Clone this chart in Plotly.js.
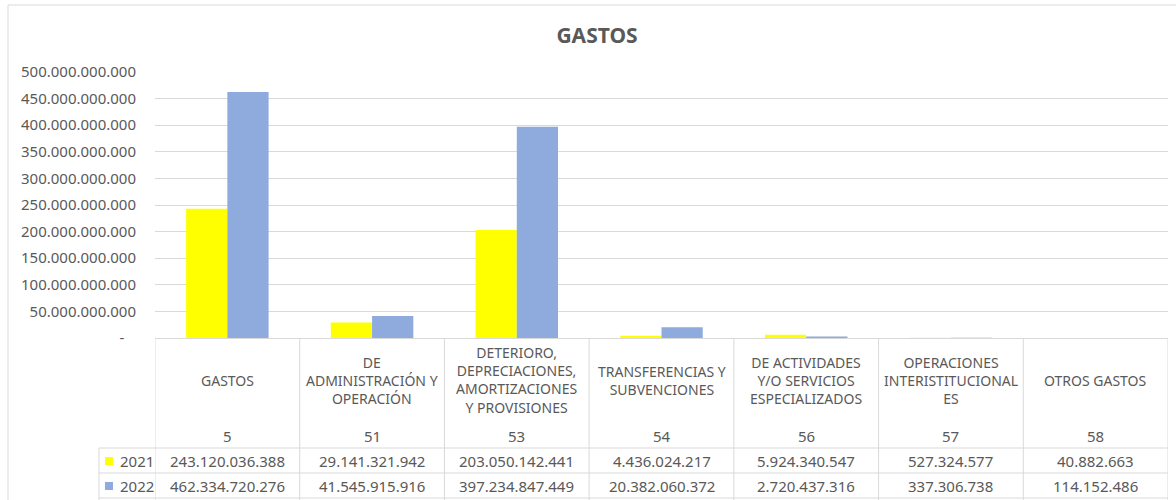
<!DOCTYPE html>
<html>
<head>
<meta charset="utf-8">
<script src="https://cdn.plot.ly/plotly-3.0.1.min.js"></script>
<style>
  html, body { margin: 0; padding: 0; background: #ffffff; }
  #chart { width: 1176px; height: 500px; }
</style>
</head>
<body>
<div id="chart"></div>
<script>
// ---- Data ----
const categoryLabels = [
  "GASTOS",
  "DE<br>ADMINISTRACIÓN Y<br>OPERACIÓN",
  "DETERIORO,<br>DEPRECIACIONES,<br>AMORTIZACIONES<br>Y PROVISIONES",
  "TRANSFERENCIAS Y<br>SUBVENCIONES",
  "DE ACTIVIDADES<br>Y/O SERVICIOS<br>ESPECIALIZADOS",
  "OPERACIONES<br>INTERISTITUCIONAL<br>ES",
  "OTROS GASTOS"
];
const categoryCodes = ["5", "51", "53", "54", "56", "57", "58"];
const seriesNames = ["2021", "2022"];
const values2021 = [243120036388, 29141321942, 203050142441, 4436024217, 5924340547, 527324577, 40882663];
const values2022 = [462334720276, 41545915916, 397234847449, 20382060372, 2720437316, 337306738, 114152486];
const yTickVals = [0, 50e9, 100e9, 150e9, 200e9, 250e9, 300e9, 350e9, 400e9, 450e9, 500e9];
const yTickText = ["-\u00a0\u00a0\u00a0", "50.000.000.000", "100.000.000.000", "150.000.000.000", "200.000.000.000",
  "250.000.000.000", "300.000.000.000", "350.000.000.000", "400.000.000.000", "450.000.000.000", "500.000.000.000"];

// ---- Styling ----
const FONT = "Noto Sans, Open Sans, Liberation Sans, sans-serif";
const TEXT = "#595959";
const LINE = "#d9d9d9";
const colors = ["#FFFF00", "#8FAADC"];

const W = 1176, H = 500;
const M = { l: 155, r: 8, t: 72, b: 162 };
const PW = W - M.l - M.r, PH = H - M.t - M.b;
const px2x = px => (px - M.l) / PW;          // pixel x -> paper x
const py2y = py => (H - M.b - py) / PH;       // pixel y -> paper y

function fmt(v) {
  return String(v).replace(/\B(?=(\d{3})+(?!\d))/g, ".");
}

const idx = categoryCodes.map((_, i) => i);

const traces = [values2021, values2022].map((vals, s) => ({
  type: "bar",
  name: seriesNames[s],
  x: idx,
  y: vals,
  marker: { color: colors[s], line: { width: 0 } },
  hoverinfo: "skip"
}));

const shapes = [];
const annotations = [];

// outer chart frame (left + top)
shapes.push({ type: "line", xref: "paper", yref: "paper", x0: px2x(8), x1: px2x(8), y0: py2y(5), y1: py2y(502), line: { color: LINE, width: 1 } });
shapes.push({ type: "line", xref: "paper", yref: "paper", x0: px2x(8), x1: px2x(1180), y0: py2y(5), y1: py2y(5), line: { color: LINE, width: 1 } });

// table vertical lines at column boundaries
for (let i = 0; i <= idx.length; i++) {
  shapes.push({ type: "line", xref: "x", yref: "paper", x0: i - 0.5, x1: i - 0.5, y0: 0, y1: py2y(502), line: { color: LINE, width: 1 } });
}
// legend column left edge
shapes.push({ type: "line", xref: "paper", yref: "paper", x0: px2x(99), x1: px2x(99), y0: py2y(448), y1: py2y(502), line: { color: LINE, width: 1 } });
// table horizontal lines
[448, 473, 498].forEach(py => {
  shapes.push({ type: "line", xref: "paper", yref: "paper", x0: px2x(99), x1: 1, y0: py2y(py), y1: py2y(py), line: { color: LINE, width: 1 } });
});

// header cells: labels and codes
idx.forEach(i => {
  annotations.push({ xref: "x", yref: "paper", x: i, y: py2y(380), text: categoryLabels[i], showarrow: false,
    xanchor: "center", yanchor: "middle", align: "center", font: { family: FONT, size: 14, color: TEXT } });
  annotations.push({ xref: "x", yref: "paper", x: i, y: py2y(436), text: categoryCodes[i], showarrow: false,
    xanchor: "center", yanchor: "middle", font: { family: FONT, size: 15, color: TEXT } });
});

// value rows
[values2021, values2022].forEach((vals, s) => {
  const rowY = s === 0 ? 461 : 486;
  idx.forEach(i => {
    annotations.push({ xref: "x", yref: "paper", x: i, y: py2y(rowY), text: fmt(vals[i]), showarrow: false,
      xanchor: "center", yanchor: "middle", font: { family: FONT, size: 15, color: TEXT } });
  });
  // legend key
  shapes.push({ type: "rect", xref: "paper", yref: "paper", x0: px2x(105), x1: px2x(113), y0: py2y(rowY + 4), y1: py2y(rowY - 4),
    fillcolor: colors[s], line: { width: 0 } });
  annotations.push({ xref: "paper", yref: "paper", x: px2x(118), y: py2y(rowY), text: seriesNames[s], showarrow: false,
    xanchor: "left", yanchor: "middle", font: { family: FONT, size: 15, color: TEXT } });
});

const layout = {
  width: W, height: H,
  margin: M,
  paper_bgcolor: "#ffffff",
  plot_bgcolor: "#ffffff",
  showlegend: false,
  barmode: "group",
  bargap: 0.43,
  bargroupgap: 0,
  title: {
    text: "GASTOS",
    xref: "container", yref: "container",
    x: 597 / W, y: 1 - 36 / H, xanchor: "center", yanchor: "middle",
    font: { family: FONT, size: 21, color: TEXT, weight: "bold" }
  },
  xaxis: {
    range: [-0.5, idx.length - 0.5],
    showticklabels: false,
    showgrid: false,
    zeroline: false,
    showline: true,
    linecolor: LINE,
    linewidth: 1,
    ticks: "",
    fixedrange: true
  },
  yaxis: {
    range: [0, 500e9],
    tickmode: "array",
    tickvals: yTickVals,
    ticktext: yTickText,
    showgrid: true,
    gridcolor: LINE,
    gridwidth: 1,
    zeroline: false,
    showline: false,
    ticks: "",
    ticklabelstandoff: 18,
    tickfont: { family: FONT, size: 15, color: TEXT },
    fixedrange: true
  },
  shapes: shapes,
  annotations: annotations
};

Plotly.newPlot("chart", traces, layout, { staticPlot: true, displayModeBar: false });
</script>
</body>
</html>
